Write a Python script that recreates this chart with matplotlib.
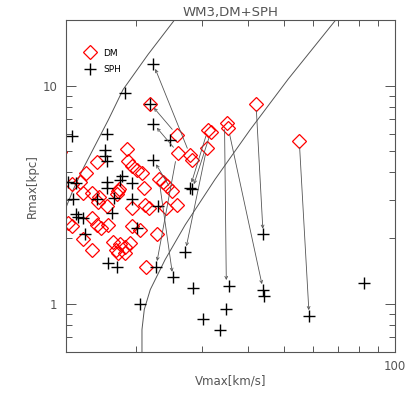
import matplotlib
matplotlib.use("Agg")
import matplotlib.pyplot as plt
from matplotlib.ticker import LogLocator, NullFormatter, FixedFormatter, FixedLocator

OUT = "out.png"

# --- data (Vmax [km/s], Rmax [kpc]) ---
dm_vmax = [21.8, 42.1, 25.7, 31.2, 31.8, 35.1, 35.4, 55.1, 31.0, 18.8,
           15.6, 14.6, 19.0, 19.5, 20.1, 20.7, 25.9, 27.9, 28.3, 13.4,
           14.1, 14.3, 15.2, 15.8, 15.7, 16.7, 17.9, 17.8, 17.7, 21.0,
           23.0, 23.6, 24.2, 25.0, 25.7, 24.0, 19.5, 21.1, 21.6, 13.1,
           13.4, 15.2, 15.6, 16.0, 16.8, 19.5, 20.5, 22.7, 14.3, 15.2,
           17.3, 17.6, 18.1, 18.6, 19.2, 18.6, 17.8, 21.2, 12.4]
dm_rmax = [8.27, 8.27, 5.96, 6.28, 6.15, 6.76, 6.42, 5.60, 5.20, 5.14,
           4.48, 3.99, 4.53, 4.30, 4.12, 3.99, 4.93, 4.82, 4.58, 3.52,
           3.63, 3.23, 3.23, 3.10, 2.94, 2.79, 3.34, 3.27, 3.20, 3.40,
           3.74, 3.63, 3.48, 3.27, 2.84, 2.76, 2.76, 2.84, 2.76, 2.35,
           2.26, 2.48, 2.30, 2.23, 2.30, 2.26, 2.18, 2.08, 1.97, 1.77,
           1.91, 1.77, 1.87, 1.81, 1.89, 1.71, 1.71, 1.47, 4.98]

sph_vmax = [22.2, 18.6, 21.8, 22.2, 13.4, 16.7, 24.6, 16.4, 16.4, 16.6,
            22.2, 13.1, 13.7, 16.6, 18.3, 18.1, 19.4, 16.7, 27.9, 28.3,
            13.5, 15.6, 17.4, 19.5, 22.9, 13.7, 13.9, 14.3, 17.2, 20.1,
            14.5, 44.0, 27.1, 16.8, 17.7, 22.6, 25.1, 28.4, 35.6, 44.0,
            44.2, 20.5, 30.3, 34.9, 33.7, 58.6, 82.4]
sph_rmax = [12.6, 9.29, 8.27, 6.70, 5.90, 6.02, 5.65, 5.09, 4.77, 4.53,
            4.58, 3.63, 3.59, 3.63, 3.83, 3.71, 3.59, 3.40, 3.40, 3.34,
            3.03, 3.03, 3.06, 3.03, 2.79, 2.58, 2.51, 2.48, 2.61, 2.22,
            2.08, 2.08, 1.73, 1.54, 1.48, 1.48, 1.32, 1.18, 1.21, 1.16,
            1.08, 1.00, 0.85, 0.94, 0.76, 0.88, 1.24]

# matched haloes: DM position -> SPH position
arrow_dm_v = [27.9, 25.7, 25.9, 25.0, 31.2, 31.8, 31.0, 34.6, 35.4, 42.1, 55.1, 25.7, 23.0]
arrow_dm_r = [4.82, 5.96, 4.93, 3.27, 6.28, 6.15, 5.20, 6.76, 6.42, 8.27, 5.60, 4.82, 3.74]
arrow_sph_v = [22.2, 21.8, 22.2, 22.2, 27.9, 28.3, 27.1, 35.0, 44.0, 44.0, 58.6, 22.6, 25.1]
arrow_sph_r = [12.6, 8.27, 6.70, 4.58, 3.40, 3.34, 1.73, 1.21, 1.16, 2.08, 0.88, 1.48, 1.32]

# two reference curves
curve1_v = [25.4, 21.5, 18.4, 16.8, 15.5, 14.4, 13.5, 12.9]
curve1_r = [20.1, 13.9, 9.59, 6.98, 5.36, 4.21, 3.34, 2.76]
curve2_v = [69.3, 51.4, 40.6, 32.6, 27.1, 23.9, 21.8, 21.0, 20.7, 20.7]
curve2_r = [20.1, 10.7, 6.28, 3.71, 2.30, 1.59, 1.16, 0.94, 0.76, 0.60]

GREY = "#555555"


def main():
    fig = plt.figure(figsize=(4.15, 3.95), dpi=100)
    ax = fig.add_axes([66 / 415, 1 - 352 / 395, 329 / 415, 332 / 395])
    ax.set_xscale("log")
    ax.set_yscale("log")
    ax.set_xlim(12.9, 100)
    ax.set_ylim(0.6, 20)

    ax.plot(curve1_v, curve1_r, color=GREY, lw=0.7)
    ax.plot(curve2_v, curve2_r, color=GREY, lw=0.7)

    for v0, r0, v1, r1 in zip(arrow_dm_v, arrow_dm_r, arrow_sph_v, arrow_sph_r):
        ax.annotate("", xy=(v1, r1), xytext=(v0, r0),
                    arrowprops=dict(arrowstyle="->", color=GREY, lw=0.6,
                                    shrinkA=5, shrinkB=4, mutation_scale=5))

    ax.plot(dm_vmax, dm_rmax, ls="none", marker="D", ms=7.5, mfc="none",
            mec="red", mew=0.9, label="DM")
    ax.plot(sph_vmax, sph_rmax, ls="none", marker="+", ms=9, mec="black",
            mew=1.0, label="SPH")

    ax.legend(loc="upper left", bbox_to_anchor=(0.045, 0.925), frameon=False,
              fontsize=6.5, handlelength=1.2, handletextpad=0.9,
              labelspacing=0.85, borderaxespad=0)

    # IDL style ticks: inward on all four sides
    ax.xaxis.set_major_locator(FixedLocator([100]))
    ax.xaxis.set_major_formatter(FixedFormatter(["100"]))
    ax.xaxis.set_minor_locator(LogLocator(base=10, subs=range(2, 10)))
    ax.xaxis.set_minor_formatter(NullFormatter())
    ax.yaxis.set_major_locator(FixedLocator([1, 10]))
    ax.yaxis.set_major_formatter(FixedFormatter(["1", "10"]))
    ax.yaxis.set_minor_locator(LogLocator(base=10, subs=range(2, 10)))
    ax.yaxis.set_minor_formatter(NullFormatter())
    ax.tick_params(which="both", direction="in", top=True, right=True,
                   color=GREY, labelcolor=GREY, labelsize=8.5, width=0.7)
    ax.tick_params(which="major", length=7, pad=6)
    ax.tick_params(which="minor", length=4)
    for s in ax.spines.values():
        s.set_color(GREY)
        s.set_linewidth(0.8)

    ax.set_xlabel("Vmax[km/s]", color=GREY, fontsize=8.5, labelpad=1)
    ax.set_ylabel("Rmax[kpc]", color=GREY, fontsize=8.5, labelpad=3)
    ax.set_title("WM3,DM+SPH", color=GREY, fontsize=9.5, pad=3)

    fig.savefig(OUT, dpi=100, facecolor="white")


if __name__ == "__main__":
    main()
